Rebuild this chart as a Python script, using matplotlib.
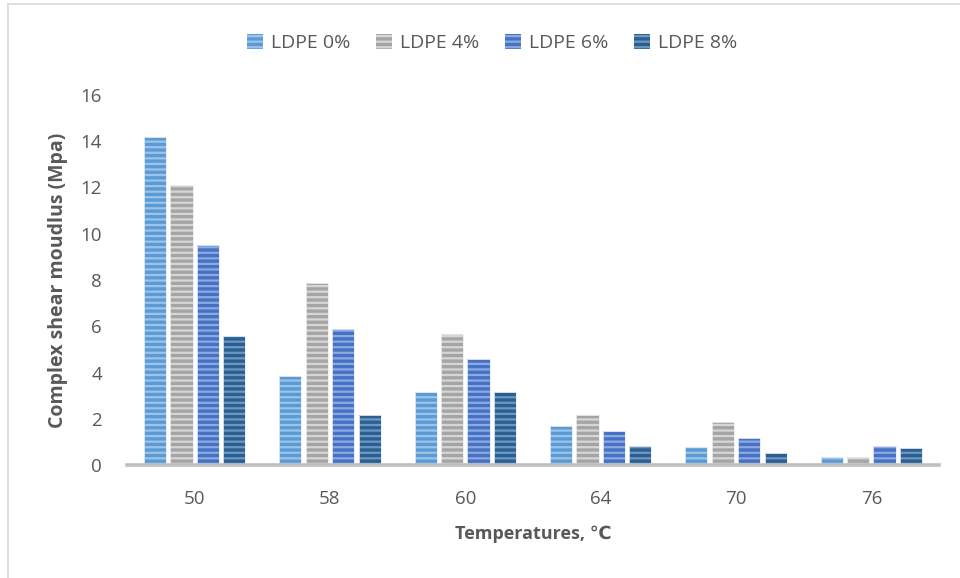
import matplotlib
matplotlib.use("Agg")
import matplotlib.pyplot as plt
import numpy as np
from matplotlib.lines import Line2D
from matplotlib.patches import Patch

# Data
temperatures = ["50", "58", "60", "64", "70", "76"]
series_names = ["LDPE 0%", "LDPE 4%", "LDPE 6%", "LDPE 8%"]
ldpe_0 = [14.2, 3.85, 3.15, 1.7, 0.76, 0.36]
ldpe_4 = [12.1, 7.88, 5.67, 2.18, 1.84, 0.36]
ldpe_6 = [9.5, 5.9, 4.6, 1.45, 1.15, 0.84]
ldpe_8 = [5.56, 2.18, 3.15, 0.84, 0.51, 0.73]
yticks = [0, 2, 4, 6, 8, 10, 12, 14, 16]

series = [ldpe_0, ldpe_4, ldpe_6, ldpe_8]
base_colors = ["#5B9BD5", "#A5A5A5", "#4472C4", "#2A5F92"]
stripe_colors = ["#9CC3E8", "#D6D6D6", "#8FA9E0", "#6F97BF"]

plt.rcParams["font.family"] = ["Open Sans", "DejaVu Sans"]
plt.rcParams["hatch.linewidth"] = 1.6

fig = plt.figure(figsize=(9.6, 5.78), dpi=100)
ax = fig.add_axes([127 / 960, 1 - 465 / 578, (939 - 127) / 960, 370 / 578])

x = np.arange(len(temperatures))
slot = 0.195
width = 0.163
for i, (vals, bc, sc) in enumerate(zip(series, base_colors, stripe_colors)):
    pos = x + (i - 1.5) * slot
    ax.bar(pos, vals, width=width, color=bc, edgecolor=sc, hatch="---",
           linewidth=0, zorder=2)
    ax.bar(pos, vals, width=width, fill=False, edgecolor="#E8EEF7",
           linewidth=0.6, zorder=3)

ax.set_xlim(-0.5, len(temperatures) - 0.5)
ax.set_ylim(0, 16)
ax.set_yticks(yticks)
ax.set_yticklabels([str(t) for t in yticks])
ax.set_xticks(x)
ax.set_xticklabels(temperatures)

for side in ["top", "right", "left"]:
    ax.spines[side].set_visible(False)
ax.spines["bottom"].set_color("#BFBFBF")
ax.spines["bottom"].set_linewidth(2.6)
ax.spines["bottom"].set_zorder(4)
ax.tick_params(axis="both", length=0, colors="#595959", labelsize=13.5)
ax.tick_params(axis="x", pad=18)
ax.tick_params(axis="y", pad=18)

ax.set_ylabel("Complex shear moudlus (Mpa)", fontsize=14, fontweight="bold",
              color="#595959", labelpad=9)
ax.set_xlabel("Temperatures, \u2103", fontsize=13, fontweight="bold",
              color="#595959", labelpad=12)

handles = [Patch(facecolor=bc, edgecolor=sc, hatch="---", linewidth=0)
           for bc, sc in zip(base_colors, stripe_colors)]
leg = fig.legend(handles, series_names, loc="center", bbox_to_anchor=(492 / 960, 1 - 43 / 578),
                 ncol=4, frameon=False, fontsize=14, handlelength=0.85, handleheight=0.85,
                 handletextpad=0.4, columnspacing=1.3)
for t in leg.get_texts():
    t.set_color("#595959")

# outer chart frame
fig.add_artist(Line2D([8 / 960, 1], [1 - 4 / 578, 1 - 4 / 578], color="#D9D9D9", lw=1.2))
fig.add_artist(Line2D([8 / 960, 8 / 960], [0, 1 - 4 / 578], color="#D9D9D9", lw=1.2))

fig.savefig("out.png", dpi=100, facecolor="white")
